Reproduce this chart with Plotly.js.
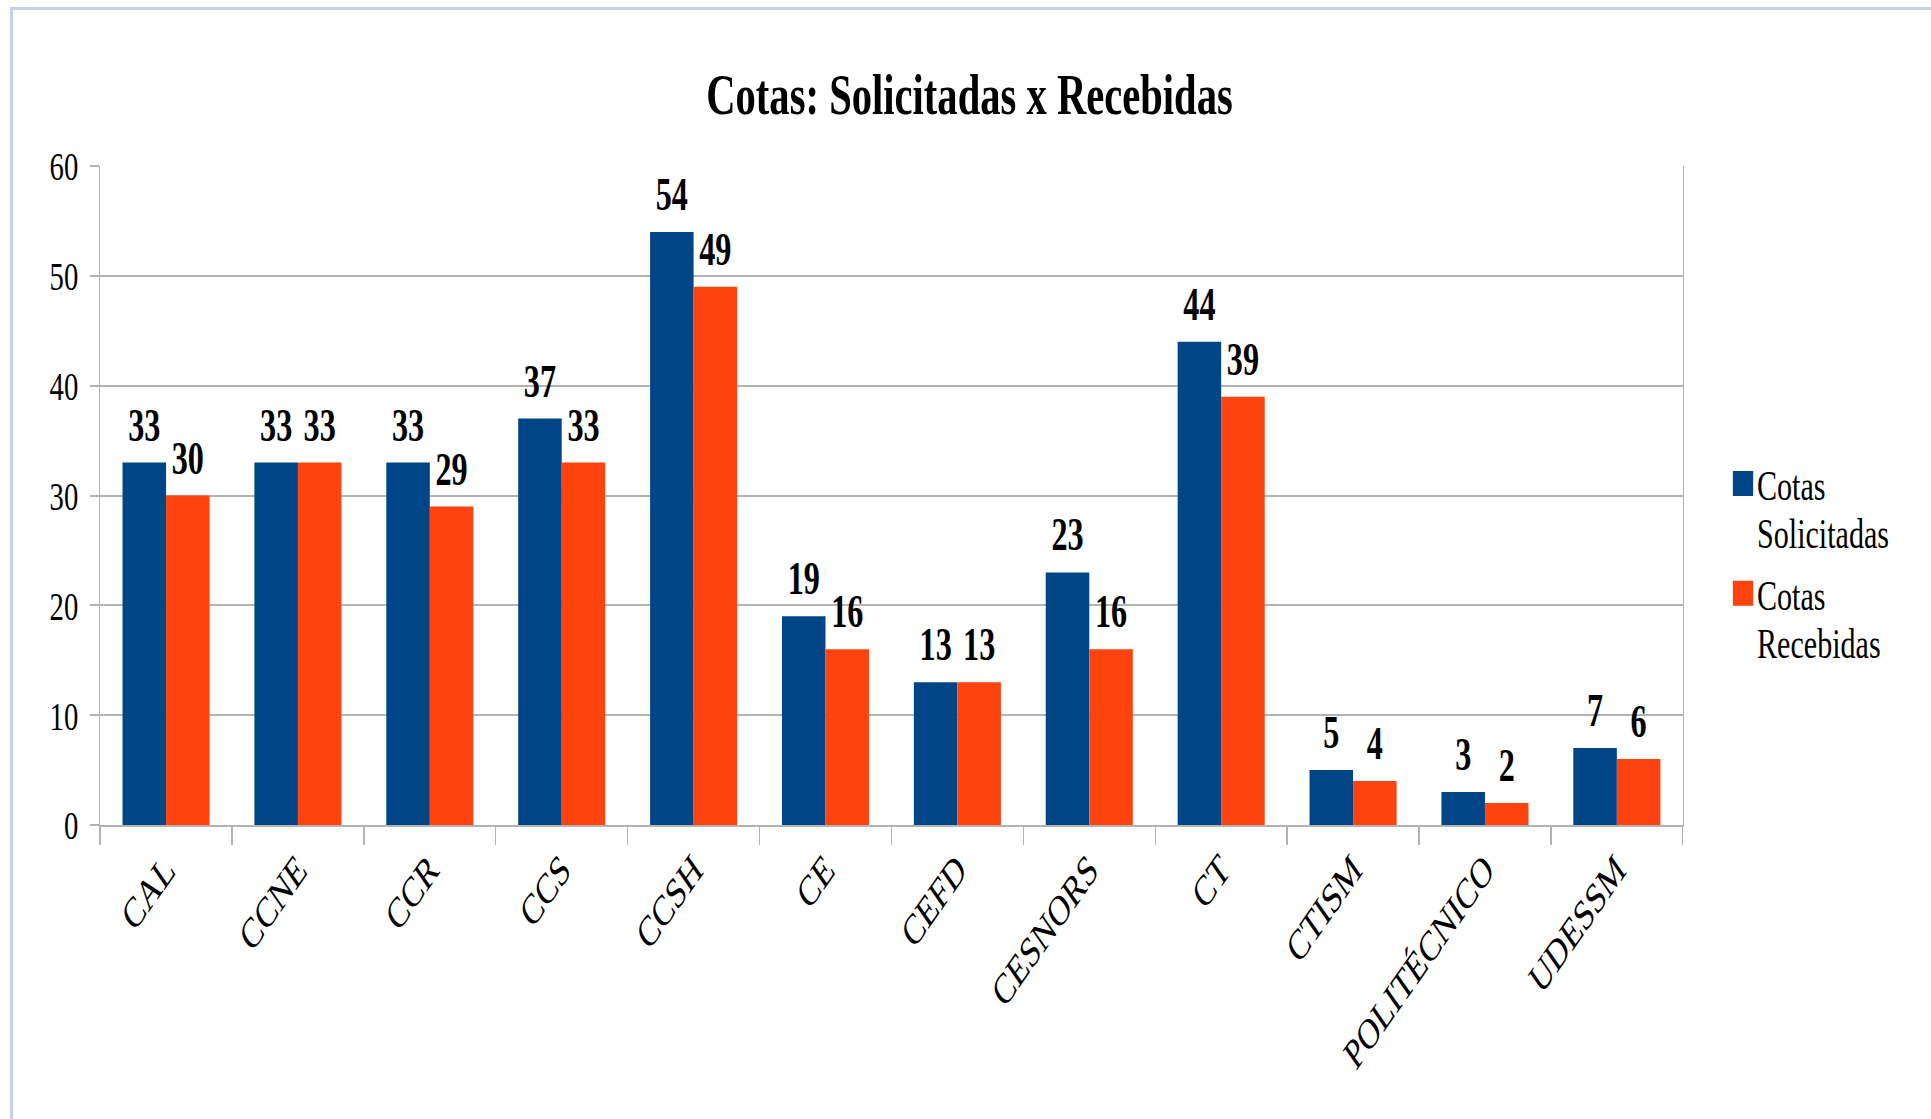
<!DOCTYPE html>
<html>
<head>
<meta charset="utf-8">
<script src="https://cdn.plot.ly/plotly-3.0.1.min.js"></script>
<style>
  html, body { margin: 0; padding: 0; background: #ffffff; overflow: hidden; width: 1931px; height: 1119px; }
  #frame { position: absolute; left: 10px; top: 7px; width: 1925px; height: 1115px;
           border-left: 3px solid #c3d1e8; border-top: 3px solid #c3d1e8; pointer-events: none; z-index: 5; }
  #chart { position: absolute; left: 0; top: 0; transform: scaleX(0.7); transform-origin: 0 0; }
</style>
</head>
<body>
<div id="frame"></div>
<div id="chart"></div>
<script>
const categories = ["CAL", "CCNE", "CCR", "CCS", "CCSH", "CE", "CEFD", "CESNORS", "CT", "CTISM", "POLITÉCNICO", "UDESSM"];
const solicitadas = [33, 33, 33, 37, 54, 19, 13, 23, 44, 5, 3, 7];
const recebidas = [30, 33, 29, 33, 49, 16, 13, 16, 39, 4, 2, 6];
const seriesNames = ["Cotas<br>Solicitadas", "Cotas<br>Recebidas"];
const yTicks = [0, 10, 20, 30, 40, 50, 60];

const FONT = "Liberation Serif, Times New Roman, serif";
const W = 2759, H = 1119;
const COLORS = ["#004586", "#ff420e"];

const labelFont = { family: FONT, size: 46, color: "#000000", weight: 700 };

function barTrace(name, vals, color) {
  return {
    type: "bar", name: name, x: categories, y: vals,
    marker: { color: color }, hoverinfo: "x+y"
  };
}
function labelTrace(vals) {
  return {
    type: "scatter", mode: "markers+text", x: categories, y: vals,
    text: vals.map(String), textposition: "top center", textfont: labelFont,
    marker: { size: 15, opacity: 0, color: "#ffffff" },
    cliponaxis: false, showlegend: false, hoverinfo: "skip"
  };
}

const traces = [
  barTrace(seriesNames[0], solicitadas, COLORS[0]),
  barTrace(seriesNames[1], recebidas, COLORS[1]),
  labelTrace(solicitadas),
  labelTrace(recebidas)
];

const layout = {
  width: W, height: H,
  paper_bgcolor: "#ffffff", plot_bgcolor: "#ffffff",
  margin: { l: 143, r: 355, t: 166, b: 294, autoexpand: false },
  font: { family: FONT, color: "#000000" },
  title: {
    text: "Cotas: Solicitadas x Recebidas",
    font: { family: FONT, size: 58, color: "#000000", weight: 700 },
    xref: "container", x: 0.502, xanchor: "center",
    yref: "container", y: 1 - 94 / H, yanchor: "middle"
  },
  barmode: "group", bargap: 0.34, bargroupgap: 0,
  scattermode: "group", scattergap: 0.34,
  xaxis: {
    type: "category", automargin: false,
    tickangle: -45, tickfont: { family: FONT, size: 43, color: "#000000" },
    showline: true, linecolor: "#b3b3b3", linewidth: 2, mirror: false,
    ticks: "outside", tickson: "boundaries", ticklen: 18, tickcolor: "#b3b3b3", tickwidth: 2,
    showgrid: false, zeroline: false
  },
  yaxis: {
    range: [0, 60], tickvals: yTicks, automargin: false,
    tickfont: { family: FONT, size: 41, color: "#000000" },
    ticklabelstandoff: 8,
    showline: true, linecolor: "#b3b3b3", linewidth: 2, mirror: true,
    ticks: "outside", ticklen: 13, tickcolor: "#b3b3b3", tickwidth: 2,
    showgrid: true, gridcolor: "#b3b3b3", gridwidth: 2, zeroline: false
  },
  showlegend: true,
  legend: {
    xref: "container", x: 2470 / W, xanchor: "left",
    yref: "container", y: 1 - 449 / H, yanchor: "top",
    valign: "top", font: { family: FONT, size: 43, color: "#000000" },
    bgcolor: "rgba(0,0,0,0)", borderwidth: 0, tracegroupgap: 0
  }
};

Plotly.newPlot("chart", traces, layout, { displayModeBar: false, staticPlot: true }).then(function (gd) {
  // larger legend swatches, tighter legend line spacing
  gd.querySelectorAll(".legend .legendpoints path").forEach(function (p) {
    p.setAttribute("d", "M14.5,12.5H-14.5V-12.5H14.5Z");
  });
  gd.querySelectorAll(".legend .legendtext tspan.line").forEach(function (t) {
    var dy = t.getAttribute("dy");
    if (dy && parseFloat(dy) > 0) t.setAttribute("dy", (parseFloat(dy) / 1.3 * 1.12).toFixed(3) + "em");
  });
  gd.querySelectorAll(".legend g.traces").forEach(function (g, i) {
    if (i === 0) return;
    var tr = g.getAttribute("transform") || "";
    var m = tr.match(/translate\(\s*([-\d.]+)[ ,]+([-\d.]+)\s*\)/);
    if (m) g.setAttribute("transform", "translate(" + m[1] + "," + (parseFloat(m[2]) - 5 * i) + ")");
  });
});
</script>
</body>
</html>
